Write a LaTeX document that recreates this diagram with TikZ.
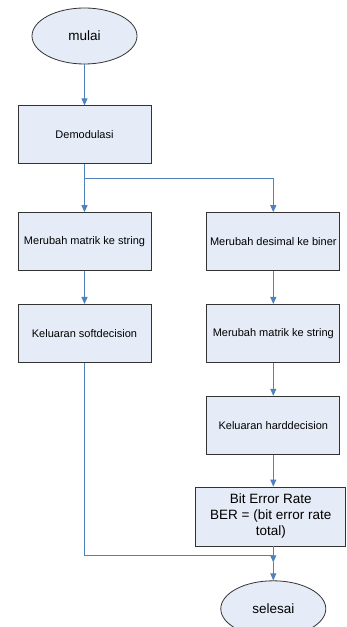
\documentclass[tikz,border=0pt]{standalone}
\usepackage{fontspec}
\setmainfont{Liberation Sans}
\usetikzlibrary{arrows.meta,positioning,shapes.geometric}
\definecolor{flowblue}{RGB}{79,129,189}
\definecolor{boxfill}{RGB}{230,236,247}

\begin{document}
\begin{tikzpicture}[x=1pt,y=1pt,>={Triangle[width=6pt,length=7pt]},node distance=33pt,
    proc/.style={rectangle,draw=black!80,line width=0.8pt,fill=boxfill,minimum width=133pt,minimum height=58pt,inner sep=1pt,font=\fontsize{11}{13}\selectfont},
    term/.style={ellipse,draw=black!80,line width=0.8pt,fill=boxfill,minimum width=105pt,minimum height=56pt,inner sep=0pt,font=\fontsize{13.5}{16}\selectfont},
    line/.style={draw=flowblue,line width=0.9pt},
    flow/.style={line,->}]
      \useasboundingbox (0,0) rectangle (346,627);

      \node[term] (mulai) at (84.5,591) {mulai};
      \node[proc] (demod) [below=41pt of mulai] {Demodulasi};
      \node[proc] (m1) [below=48pt of demod] {Merubah matrik ke string};
      \node[proc] (soft) [below=of m1] {Keluaran softdecision};

      \node[proc] (d1) [right=55pt of m1] {Merubah desimal ke biner};
      \node[proc] (d2) [below=of d1] {Merubah matrik ke string};
      \node[proc] (hard) [below=of d2] {Keluaran harddecision};
      \node[proc,minimum width=150pt,minimum height=59pt,align=center,font=\fontsize{13.5}{16}\selectfont]
        (ber) [below=32pt of hard,xshift=-2.5pt] {Bit Error Rate\\BER = (bit error rate\\total)};

      \coordinate[below=14pt of demod.south] (split);
      \path (hard.south |- ber.south) ++(0,-9) coordinate (join);
      \path (hard.south |- ber.south) ++(0,-16) coordinate (merge);
      \node[term] (selesai) [below=18pt of merge] {selesai};

      \draw[flow] (mulai) -- (demod);
      \draw[flow] (demod) -- (m1);
      \draw[flow] (split) -| (d1);
      \draw[flow] (m1) -- (soft);
      \draw[flow] (d1) -- (d2);
      \draw[flow] (d2) -- (hard);
      \draw[flow] (hard.south) -- (hard.south |- ber.north);
      \draw[flow] (hard.south |- ber.south) -- (merge);
      \draw[line] (soft) |- (join);
      \draw[flow] (merge) -- (selesai);
    \end{tikzpicture}
\end{document}
